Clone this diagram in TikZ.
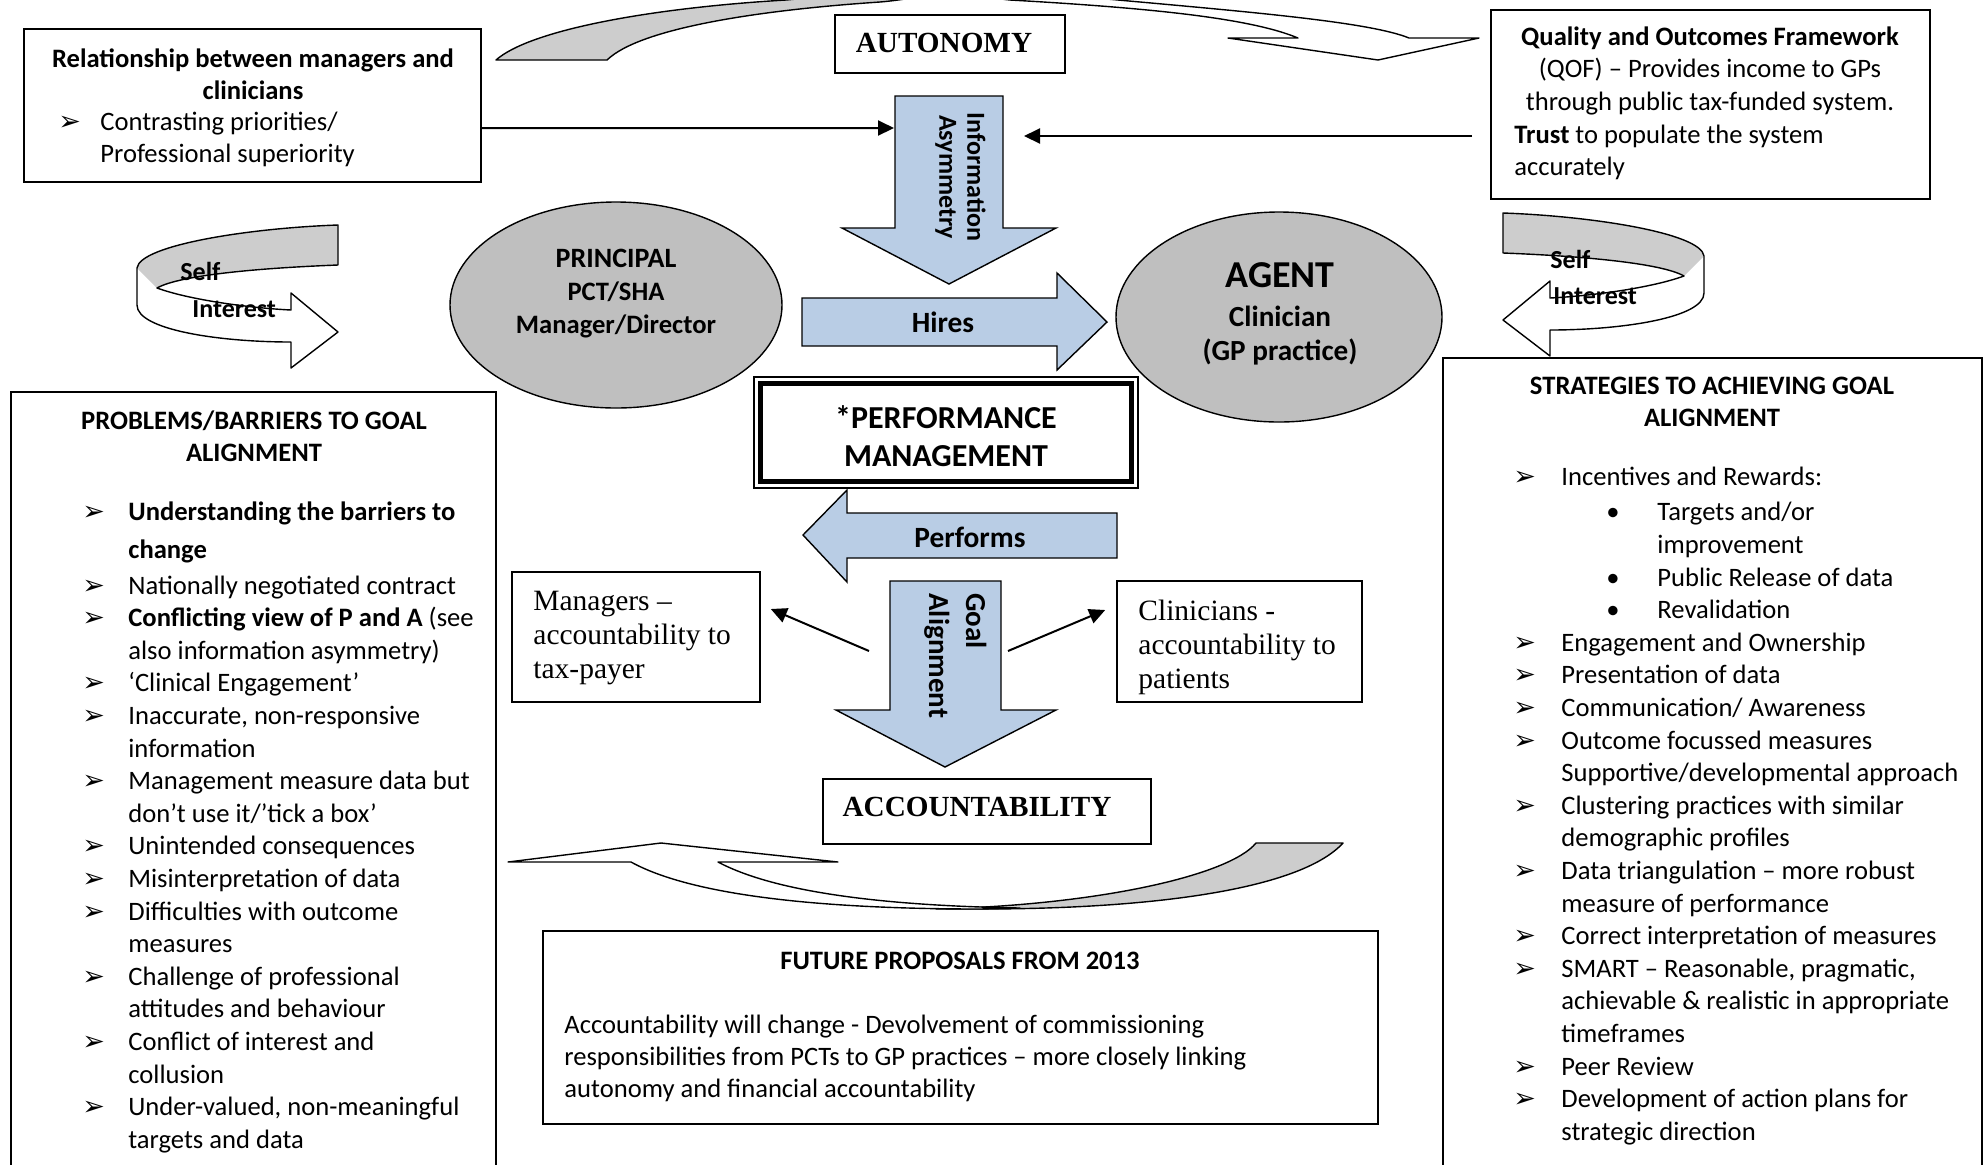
\documentclass[tikz,border=0pt]{standalone}
\usepackage{fontspec}
\setmainfont{Carlito}
\newfontfamily\timesfont{Liberation Serif}
\newfontfamily\dingfont{DejaVu Sans}
\usetikzlibrary{arrows.meta,shapes.geometric,calc}

\definecolor{arrowblue}{RGB}{185,205,229}
\definecolor{ovalgray}{RGB}{191,191,191}
\definecolor{ribbongray}{RGB}{205,205,205}

\newcommand\tipmark{{\dingfont\fontsize{13.5}{10}\selectfont ➢}}
\newcommand\basefont{\fontsize{13.3}{16.3}\selectfont}
\newcommand\probitem{\makebox[23pt][l]{\tipmark}}
\newcommand\probcont{\hspace*{23pt}}
\newcommand\stratitem{\makebox[24pt][l]{\tipmark}}
\newcommand\stratcont{\hspace*{24pt}}
\newcommand\stratdot{\hspace*{46.5pt}\makebox[25.5pt][l]{•}}
\newcommand\stratdotcont{\hspace*{72pt}}

\tikzset{
  box/.style={draw, fill=white, line width=0.8pt, inner sep=0pt},
  oval/.style={ellipse, draw, fill=ovalgray, line width=0.7pt, inner sep=0pt},
  blockarrow/.style={draw, fill=arrowblue, line width=0.7pt, line join=miter},
  ribbonline/.style={draw, line width=0.7pt, line join=round},
  conn/.style={line width=1pt, -{Triangle[length=8pt,width=7.5pt]}},
  txt/.style={inner sep=0pt, font=\basefont},
  boldtxt/.style={inner sep=0pt, font=\basefont\bfseries},
  serifbold/.style={inner sep=0pt, font=\timesfont\bfseries\fontsize{14.6}{17}\selectfont},
  seriftxt/.style={inner sep=0pt, font=\timesfont\fontsize{14.75}{17}\selectfont},
}

\begin{document}
\begin{tikzpicture}[x=0.5pt,y=-0.5pt]
\useasboundingbox (0,0) rectangle (1988,1164);
\clip (0,0) rectangle (1988,1164);

% ---------- curved ribbon arrow over AUTONOMY ----------
\path[fill=white] (496,60) .. controls (530,30) and (650,8) .. (786,0)
  .. controls (840,-5) and (900,-12) .. (950,-12)
  .. controls (1010,-12) and (1070,-4) .. (1118,0)
  .. controls (1250,12) and (1370,22) .. (1409,38)
  -- (1479,38) -- (1378,60) -- (1228,38) -- (1298,38)
  .. controls (1250,18) and (1150,8) .. (1010,0)
  .. controls (990,-2) and (970,-6) .. (950,-6)
  .. controls (930,-6) and (905,0) .. (880,2)
  .. controls (760,10) and (640,28) .. (607,60) -- cycle;
\fill[ribbongray] (496,60) .. controls (530,30) and (650,8) .. (786,0)
  .. controls (840,-5) and (900,-12) .. (950,-12) -- (950,-6)
  .. controls (930,-6) and (905,0) .. (880,2)
  .. controls (760,10) and (640,28) .. (607,60) -- cycle;
\path[ribbonline] (496,60) .. controls (530,30) and (650,8) .. (786,0)
  .. controls (840,-5) and (900,-12) .. (950,-12)
  .. controls (1010,-12) and (1070,-4) .. (1118,0)
  .. controls (1250,12) and (1370,22) .. (1409,38)
  -- (1479,38) -- (1378,60) -- (1228,38) -- (1298,38)
  .. controls (1250,18) and (1150,8) .. (1010,0)
  .. controls (990,-2) and (970,-6) .. (950,-6)
  .. controls (930,-6) and (905,0) .. (880,2)
  .. controls (760,10) and (640,28) .. (607,60) -- cycle;

% ---------- curved ribbon arrow under ACCOUNTABILITY ----------
\path[ribbonline, fill=ribbongray] (1256,843) -- (1343,843)
  .. controls (1300,890) and (1150,909) .. (980,909) -- (936,909)
  .. controls (1100,905) and (1230,875) .. (1256,843) -- cycle;
\path[ribbonline, fill=white] (508,862) -- (661,843) -- (838,862) -- (718,862)
  .. controls (780,895) and (900,906) .. (1020,908) -- (980,909)
  .. controls (850,909) and (700,900) .. (631,862) -- cycle;

% ---------- "Self Interest" ribbons ----------
\begin{scope}
  \path[fill=white] (338,225) .. controls (250,228) and (140,245) .. (137,268) -- (137,305)
    .. controls (137,330) and (220,342) .. (291,342) -- (291,368) -- (338,332) -- (291,293) -- (291,310)
    .. controls (250,308) and (190,300) .. (157,288) .. controls (180,275) and (260,268) .. (338,265) -- cycle;
  \fill[ribbongray] (338,225) .. controls (250,228) and (140,245) .. (137,268) -- (157,288)
    .. controls (180,275) and (260,268) .. (338,265) -- cycle;
  \path[ribbonline] (338,225) .. controls (250,228) and (140,245) .. (137,268) -- (137,305)
    .. controls (137,330) and (220,342) .. (291,342) -- (291,368) -- (338,332) -- (291,293) -- (291,310)
    .. controls (250,308) and (190,300) .. (157,288) .. controls (180,275) and (260,268) .. (338,265) -- cycle;
\end{scope}
\begin{scope}[shift={(1841,-12)}, xscale=-1]
  \path[fill=white] (338,225) .. controls (250,228) and (140,245) .. (137,268) -- (137,305)
    .. controls (137,330) and (220,342) .. (291,342) -- (291,368) -- (338,332) -- (291,293) -- (291,310)
    .. controls (250,308) and (190,300) .. (157,288) .. controls (180,275) and (260,268) .. (338,265) -- cycle;
  \fill[ribbongray] (338,225) .. controls (250,228) and (140,245) .. (137,268) -- (157,288)
    .. controls (180,275) and (260,268) .. (338,265) -- cycle;
  \path[ribbonline] (338,225) .. controls (250,228) and (140,245) .. (137,268) -- (137,305)
    .. controls (137,330) and (220,342) .. (291,342) -- (291,368) -- (338,332) -- (291,293) -- (291,310)
    .. controls (250,308) and (190,300) .. (157,288) .. controls (180,275) and (260,268) .. (338,265) -- cycle;
\end{scope}
\node[boldtxt, font=\bfseries\fontsize{13}{16}\selectfont, anchor=base west] (selfL) at (180,280) {Self};
\node[boldtxt, font=\bfseries\fontsize{13}{16}\selectfont, anchor=base west] (interestL) at (192,317) {Interest};
\node[boldtxt, font=\bfseries\fontsize{13}{16}\selectfont, anchor=base west] (selfR) at (1550,268) {Self};
\node[boldtxt, font=\bfseries\fontsize{13}{16}\selectfont, anchor=base west] (interestR) at (1553,304) {Interest};

% ---------- boxes ----------
\node[box, minimum width=228.5pt, minimum height=76.5pt] (rel) at (252.5,105.5) {};
\node[box, minimum width=115pt, minimum height=29pt] (auto) at (950,44) {};
\node[box, minimum width=219.5pt, minimum height=94.5pt] (qof) at (1710.5,104.5) {};
\node[box, minimum width=242.5pt, minimum height=404pt] (prob) at (253.5,796) {};
\node[box, minimum width=269.5pt, minimum height=421pt] (strat) at (1712.5,779) {};
\node[box, minimum width=124pt, minimum height=65pt] (mgr) at (636,637) {};
\node[box, minimum width=122.5pt, minimum height=60.5pt] (clin) at (1239.5,641.5) {};
\node[box, minimum width=164pt, minimum height=32.5pt] (acc) at (987,811.5) {};
\node[box, minimum width=417.5pt, minimum height=96.5pt] (fut) at (960.5,1027.5) {};
\node[box, line width=0.75pt, minimum width=192pt, minimum height=55.5pt] (pm) at (946,432.5) {};
\node[draw, line width=2.4pt, minimum width=185.5pt, minimum height=49pt, inner sep=0pt] (pmframe) at (946,432.5) {};

% ---------- principal and agent ----------
\node[oval, minimum width=166pt, minimum height=103pt] (prin) at (616,305) {};
\node[oval, minimum width=163pt, minimum height=105pt] (agent) at (1279,317) {};

% ---------- block arrows ----------
\path[blockarrow] (895,96) -- (1003,96) -- (1003,228) -- (1056,228) -- (949,284) -- (842,228) -- (895,228) -- cycle;
\path[blockarrow] (802,298) -- (1057,298) -- (1057,273) -- (1107,322) -- (1057,370) -- (1057,346) -- (802,346) -- cycle;
\path[blockarrow] (1117,513) -- (847,513) -- (847,490) -- (803,535) -- (847,582) -- (847,558) -- (1117,558) -- cycle;
\path[blockarrow] (890,581) -- (1001,581) -- (1001,710) -- (1056,710) -- (945,767) -- (836,710) -- (890,710) -- cycle;
\coordinate (infoL) at (894,128);
\coordinate (infoR) at (1024,136);
\coordinate (goalL) at (869,651);
\coordinate (goalR) at (1008,651);

\node[inner sep=0pt, rotate=-90, font=\bfseries\fontsize{13}{14}\selectfont] (infolbl) at (959,177)
  {\begin{tabular}{@{}c@{}}Information\\Asymmetry\end{tabular}};
\node[inner sep=0pt, rotate=-90, anchor=west, font=\bfseries\fontsize{14.5}{18.5}\selectfont] (goallbl) at (955,593)
  {\begin{tabular}{@{}l@{}}Goal\\Alignment\end{tabular}};
\node[inner sep=0pt, font=\bfseries\fontsize{14.7}{17}\selectfont] (hireslbl) at (943,322) {Hires};
\node[inner sep=0pt, font=\bfseries\fontsize{14.7}{17}\selectfont] (performslbl) at (970,537) {Performs};

% ---------- connectors ----------
\draw[conn] ($(rel.south east)!0.353!(rel.north east)$) -- (infoL);
\draw[conn] ($(qof.west)+(-18,31.5)$) -- (infoR);
\draw[conn] (goalL) -- ($(mgr.east)+(10,-28)$);
\draw[conn] (goalR) -- ($(clin.west)+(-11,-31.5)$);

% ---------- texts ----------
\node[serifbold] (autotxt) at (944,43) {AUTONOMY};
\node[serifbold] (acctxt) at (977,807) {ACCOUNTABILITY};

\node[boldtxt, font=\bfseries\fontsize{14}{16}\selectfont] (printitle) at (616,258) {PRINCIPAL};
\node[boldtxt] (prin2) at (616,292) {PCT/SHA};
\node[boldtxt] (prin3) at (616,326) {Manager/Director};

\node[boldtxt, font=\bfseries\fontsize{19}{22}\selectfont] (agenttitle) at (1280,275) {AGENT};
\node[boldtxt, font=\bfseries\fontsize{14.6}{17}\selectfont] (agent2) at (1280,316) {Clinician};
\node[boldtxt, font=\bfseries\fontsize{14.6}{17}\selectfont] (agent3) at (1280,352) {(GP practice)};

\node[boldtxt, font=\bfseries\fontsize{16}{19.5}\selectfont] (pm1) at (946,417) {*PERFORMANCE};
\node[boldtxt, font=\bfseries\fontsize{16}{19.5}\selectfont] (pm2) at (946,456) {MANAGEMENT};

\node[txt, anchor=base] (reltitle) at (253,67)
  {\begin{tabular}[t]{@{}c@{}}\bfseries Relationship between managers and\\\bfseries clinicians\end{tabular}};
\node[txt, anchor=base west] (rellist) at (58,130)
  {\begin{tabular}[t]{@{}l@{}}\makebox[21pt][l]{\tipmark}Contrasting priorities/\\\hspace*{21pt}Professional superiority\end{tabular}};

\node[txt, anchor=base] (qoftitle) at (1710,45)
  {\begin{tabular}[t]{@{}c@{}}\bfseries Quality and Outcomes Framework\\(QOF) – Provides income to GPs\\through public tax-funded system.\end{tabular}};
\node[txt, anchor=base west] (qoftrust) at (1514,143)
  {\begin{tabular}[t]{@{}l@{}}{\bfseries Trust} to populate the system\\accurately\end{tabular}};

\node[seriftxt, anchor=base west] (mgrtxt) at (533,610)
  {\begin{tabular}[t]{@{}l@{}}Managers –\\accountability to\\tax-payer\end{tabular}};
\node[seriftxt, anchor=base west] (clintxt) at (1138,620)
  {\begin{tabular}[t]{@{}l@{}}Clinicians -\\accountability to\\patients\end{tabular}};

\node[txt, anchor=base] (probtitle) at (254,429)
  {\begin{tabular}[t]{@{}c@{}}\bfseries PROBLEMS/BARRIERS TO GOAL\\\bfseries ALIGNMENT\end{tabular}};
\node[txt, anchor=base west] (problist) at (82,520)
  {\begin{tabular}[t]{@{}l@{}}
  \probitem{\bfseries Understanding the barriers to}\\[2.7pt]
  \probcont{\bfseries change}\\[1.7pt]
  \probitem Nationally negotiated contract\\
  \probitem{\bfseries Conflicting view of P and A} (see\\
  \probcont also information asymmetry)\\
  \probitem ‘Clinical Engagement’\\
  \probitem Inaccurate, non-responsive\\
  \probcont information\\
  \probitem Management measure data but\\
  \probcont don’t use it/’tick a box’\\
  \probitem Unintended consequences\\
  \probitem Misinterpretation of data\\
  \probitem Difficulties with outcome\\
  \probcont measures\\
  \probitem Challenge of professional\\
  \probcont attitudes and behaviour\\
  \probitem Conflict of interest and\\
  \probcont collusion\\
  \probitem Under-valued, non-meaningful\\
  \probcont targets and data
  \end{tabular}};

\node[txt, anchor=base] (strattitle) at (1712,394)
  {\begin{tabular}[t]{@{}c@{}}\bfseries STRATEGIES TO ACHIEVING GOAL\\\bfseries ALIGNMENT\end{tabular}};
\node[txt, font=\fontsize{13.3}{16.3}\selectfont, anchor=base west] (stratlist) at (1513,485)
  {\begin{tabular}[t]{@{}l@{}}
  \stratitem Incentives and Rewards:\\[1.6pt]
  \stratdot Targets and/or\\
  \stratdotcont improvement\\
  \stratdot Public Release of data\\
  \stratdot Revalidation\\
  \stratitem Engagement and Ownership\\
  \stratitem Presentation of data\\
  \stratitem Communication/ Awareness\\
  \stratitem Outcome focussed measures\\
  \stratcont Supportive/developmental approach\\
  \stratitem Clustering practices with similar\\
  \stratcont demographic profiles\\
  \stratitem Data triangulation – more robust\\
  \stratcont measure of performance\\
  \stratitem Correct interpretation of measures\\
  \stratitem SMART – Reasonable, pragmatic,\\
  \stratcont achievable \& realistic in appropriate\\
  \stratcont timeframes\\
  \stratitem Peer Review\\
  \stratitem Development of action plans for\\
  \stratcont strategic direction
  \end{tabular}};

\node[boldtxt, anchor=base] (futtitle) at (960,969) {FUTURE PROPOSALS FROM 2013};
\node[txt, font=\fontsize{13.3}{16}\selectfont, anchor=base west] (futtxt) at (564,1033)
  {\begin{tabular}[t]{@{}l@{}}Accountability will change - Devolvement of commissioning\\responsibilities from PCTs to GP practices – more closely linking\\autonomy and financial accountability\end{tabular}};
\end{tikzpicture}
\end{document}
